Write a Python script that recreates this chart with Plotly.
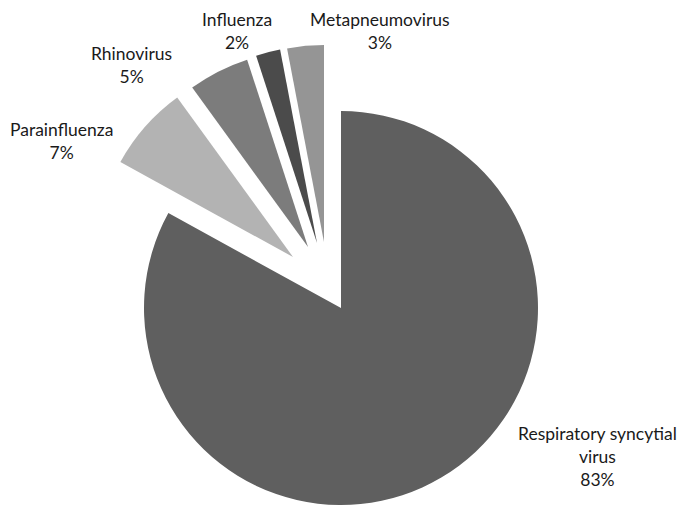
import plotly.graph_objects as go

# respiratory virus share
labels = ["Respiratory syncytial virus", "Parainfluenza", "Rhinovirus", "Influenza", "Metapneumovirus"]
values = [83, 7, 5, 2, 3]
label_lines = ["Respiratory syncytial<br>virus", "Parainfluenza", "Rhinovirus", "Influenza", "Metapneumovirus"]

colors = ["#5f5f5f", "#b3b3b3", "#7c7c7c", "#4b4b4b", "#959595"]

# page body adds an 8px margin, so the figure is a bit smaller and shifted
OFF = 8
W, H = 688 - OFF, 512 - OFF
R = 197
# pixel apex of each slice in the page (the small ones are exploded)
apex = [(341, 308), (293, 257), (308, 247), (317, 243), (324, 242)]
# pixel centre of each label block in the page
label_pos = [(597, 456), (61, 141), (131, 65), (237, 31), (380, 31)]


def dom(cx, cy):
    cx, cy = cx - OFF, cy - OFF
    return dict(x=[(cx - R) / W, (cx + R) / W],
                y=[1 - (cy + R) / H, 1 - (cy - R) / H])


fig = go.Figure()
for i in range(len(values)):
    cols = [colors[j] if j == i else "rgba(0,0,0,0)" for j in range(len(values))]
    fig.add_trace(go.Pie(
        labels=labels, values=values,
        sort=False, direction="clockwise", rotation=0,
        marker=dict(colors=cols, line=dict(width=0)),
        textinfo="none", hoverinfo="skip",
        showlegend=False,
        domain=dom(*apex[i]),
    ))

annotations = []
for i in range(len(values)):
    x, y = label_pos[i]
    annotations.append(dict(
        x=(x - OFF) / W, y=1 - (y - OFF) / H, xref="paper", yref="paper",
        text=f"{label_lines[i]}<br>{values[i]}%",
        showarrow=False, xanchor="center", yanchor="middle", align="center",
        font=dict(family="Lato", size=17.5, color="#1a1a1a"),
    ))

fig.update_layout(
    width=W, height=H,
    margin=dict(l=0, r=0, t=0, b=0),
    paper_bgcolor="white", plot_bgcolor="white",
    annotations=annotations,
)
fig.write_html("out.html")
